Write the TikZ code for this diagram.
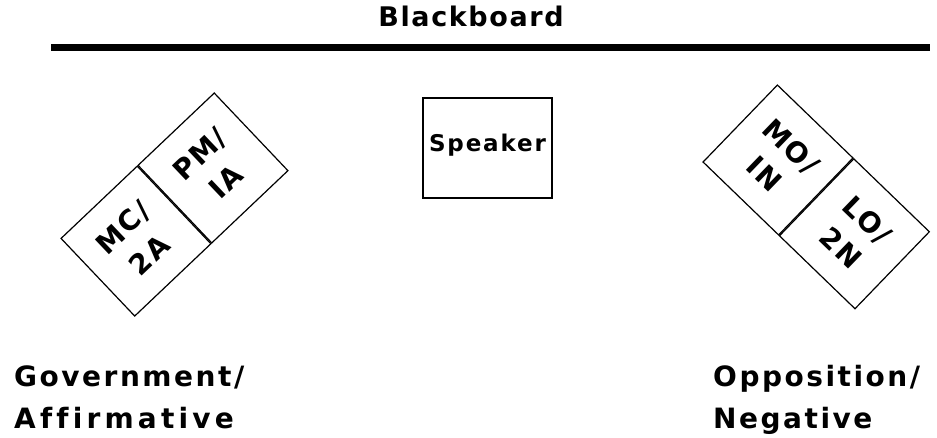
\documentclass[tikz,border=0pt]{standalone}
\usepackage{fontspec}
\setmainfont{DejaVu Sans}
\newfontfamily\labfont{DejaVu Sans}[LetterSpace=9, Ligatures=NoCommon]
\newfontfamily\boardfont{DejaVu Sans}[LetterSpace=6]
\newfontfamily\spkfont{DejaVu Sans}[LetterSpace=8]
\newfontfamily\seatfont{DejaVu Sans}[LetterSpace=6]
\begin{document}
\begin{tikzpicture}[x=1pt,y=-1pt,
  seat/.style={draw, line width=1.2pt, shape=rectangle, inner sep=0pt,
    minimum width=105pt, minimum height=107pt, align=center,
    font=\seatfont\bfseries\fontsize{28}{38}\selectfont},
  side/.style={inner sep=0pt, align=left, anchor=base west,
    font=\labfont\bfseries\fontsize{28}{42}\selectfont}]
\useasboundingbox (0,0) rectangle (937,438);
\node[font=\boardfont\bfseries\fontsize{27}{30}\selectfont, inner sep=0pt, anchor=base] (title) at (471,27) {Blackboard};
\coordinate (bl) at (51,48);
\coordinate (br) at (930,48);
\draw[line width=7pt] (bl) -- (br);
\node[draw, line width=1.6pt, minimum width=129pt, minimum height=100pt, inner sep=0pt,
  text depth=10pt, font=\spkfont\bfseries\fontsize{23}{26}\selectfont] (speaker) at (487.5,148) {Speaker};
% government
\node[seat, rotate=43.5] (pm) at (213,168) {PM/\\IA};
\node[seat, rotate=43.5, anchor=east] (mc) at (pm.west) {MC/\\2A};
% opposition
\node[seat, rotate=-44] (mo) at (778,160) {MO/\\IN};
\node[seat, rotate=-44, anchor=west] (lo) at (mo.east) {LO/\\2N};
\node[side] (gov) at (14,428) {Government/\\\addfontfeature{LetterSpace=15}Affirmative};
\node[side] (opp) at (713,428) {Opposition/\\Negative};
\end{tikzpicture}
\end{document}
